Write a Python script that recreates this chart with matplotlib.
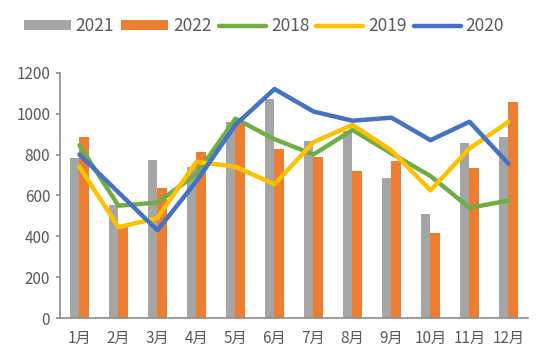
import numpy as np
import matplotlib
matplotlib.use("Agg")
import matplotlib.pyplot as plt

plt.rcParams['font.family'] = ['Noto Sans CJK SC', 'DejaVu Sans']

months = ['1月', '2月', '3月', '4月', '5月', '6月', '7月', '8月', '9月', '10月', '11月', '12月']

# bar series
v2021 = [785, 555, 775, 740, 960, 1070, 865, 915, 685, 510, 855, 885]
v2022 = [885, 450, 635, 810, 950, 825, 790, 720, 770, 415, 735, 1055]

# line series
v2018 = [845, 550, 565, 705, 975, 875, 800, 920, 805, 695, 540, 575]
v2019 = [740, 445, 490, 765, 740, 655, 860, 945, 820, 625, 830, 960]
v2020 = [800, 615, 430, 670, 945, 1120, 1010, 965, 980, 870, 960, 755]

c_gray = '#A5A5A5'
c_orange = '#ED7D31'
c_green = '#70AD47'
c_yellow = '#FFC000'
c_blue = '#4472C4'
txt = '#595959'

x = np.arange(len(months))
bw = 0.24

fig = plt.figure(figsize=(5.5, 3.63), dpi=100)
ax = fig.add_axes([0.109, 0.123, 0.851, 0.677])

b1 = ax.bar(x - bw / 2, v2021, width=bw, color=c_gray, label='2021', zorder=2)
b2 = ax.bar(x + bw / 2, v2022, width=bw, color=c_orange, label='2022', zorder=2)
l1, = ax.plot(x, v2018, color=c_green, lw=3.2, label='2018', zorder=3, solid_capstyle='round')
l2, = ax.plot(x, v2019, color=c_yellow, lw=3.2, label='2019', zorder=4, solid_capstyle='round')
l3, = ax.plot(x, v2020, color=c_blue, lw=3.2, label='2020', zorder=5, solid_capstyle='round')

ax.set_xlim(-0.5, len(months) - 0.5)
ax.set_ylim(0, 1200)
ax.set_yticks(range(0, 1201, 200))
ax.set_xticks(x)
ax.set_xticklabels(months)

for s in ['top', 'right']:
    ax.spines[s].set_visible(False)
for s in ['left', 'bottom']:
    ax.spines[s].set_color('#8c8c8c')
    ax.spines[s].set_linewidth(1.2)

ax.tick_params(axis='y', colors=txt, labelsize=11, length=3, width=1.2, direction='out', pad=4)
ax.tick_params(axis='y', color='#8c8c8c')
ax.tick_params(axis='x', colors=txt, labelsize=11, length=0, pad=8)

leg = fig.legend([b1, b2, l1, l2, l3], ['2021', '2022', '2018', '2019', '2020'],
                 loc='center', bbox_to_anchor=(0.48, 0.928), ncol=5, frameon=False,
                 fontsize=12.5, handlelength=2.7, handleheight=0.5, handletextpad=0.3,
                 columnspacing=0.4, labelcolor=txt)

fig.savefig('out.png', dpi=100)
